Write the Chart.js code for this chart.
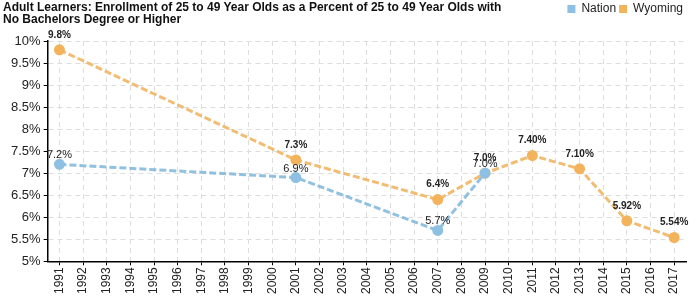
<!DOCTYPE html>
<html>
<head>
<meta charset="utf-8">
<script src="https://cdn.jsdelivr.net/npm/chart.js@4"></script>
<style>
  body { margin: 0; background: #fff; }
  #wrap { position: relative; width: 700px; height: 300px; }
  #title { position: absolute; left: 3px; top: 1px; font: bold 12px "Liberation Sans", Arial, sans-serif; line-height: 12px; color: #111; }
</style>
</head>
<body>
<div id="wrap">
  <div id="title">Adult Learners: Enrollment of 25 to 49 Year Olds as a Percent of 25 to 49 Year Olds with<br>No Bachelors Degree or Higher</div>
  <canvas id="chart" width="700" height="300"></canvas>
</div>
<script>
var years = ['1991','1992','1993','1994','1995','1996','1997','1998','1999','2000','2001','2002','2003','2004',
  '2005','2006','2007','2008','2009','2010','2011','2012','2013','2014','2015','2016','2017'];

// only some years have values, the line spans the gaps
var nation = [7.2,null,null,null,null,null,null,null,null,null,6.9,null,null,null,
  null,null,5.7,null,7.0,null,null,null,null,null,null,null,null];
var wyoming = [9.8,null,null,null,null,null,null,null,null,null,7.3,null,null,null,
  null,null,6.4,null,7.0,null,7.4,null,7.1,null,5.92,null,5.54];

var nationLabels = ['7.2%',null,null,null,null,null,null,null,null,null,'6.9%',null,null,null,
  null,null,'5.7%',null,'7.0%',null,null,null,null,null,null,null,null];
var wyomingLabels = ['9.8%',null,null,null,null,null,null,null,null,null,'7.3%',null,null,null,
  null,null,'6.4%',null,'7.0%',null,'7.40%',null,'7.10%',null,'5.92%',null,'5.54%'];

var font = '"Liberation Sans", Arial, sans-serif';

var pointLabels = {
  id: 'pointLabels',
  afterDatasetsDraw: function(chart) {
    var ctx = chart.ctx;
    chart.data.datasets.forEach(function(ds, i) {
      var meta = chart.getDatasetMeta(i);
      ctx.save();
      ctx.font = ds.labelFont;
      ctx.fillStyle = '#222';
      ctx.textAlign = 'center';
      ctx.textBaseline = 'middle';
      meta.data.forEach(function(pt, j) {
        if (ds.labels[j] == null) return;
        ctx.fillText(ds.labels[j], pt.x, pt.y - ds.labelOffset);
      });
      ctx.restore();
    });
  }
};

// extra room under the legend
var legendGap = {
  id: 'legendGap',
  beforeInit: function(chart) {
    var fit = chart.legend.fit;
    chart.legend.fit = function() {
      fit.bind(chart.legend)();
      this.height += 16;
    };
  }
};

chart = new Chart(document.getElementById('chart'), {
  type: 'line',
  data: {
    labels: years,
    datasets: [{
      label: 'Nation',
      data: nation,
      labels: nationLabels,
      labelFont: '11px ' + font,
      labelOffset: 9,
      spanGaps: true,
      borderColor: 'rgba(126,182,220,0.85)',
      backgroundColor: '#8dc0e2',
      pointBackgroundColor: '#8dc0e2',
      pointBorderColor: '#8dc0e2',
      borderWidth: 3,
      borderDash: [7, 3],
      pointRadius: 4,
      tension: 0
    }, {
      label: 'Wyoming',
      data: wyoming,
      labels: wyomingLabels,
      labelFont: 'bold 10px ' + font,
      labelOffset: 15,
      spanGaps: true,
      borderColor: 'rgba(240,178,90,0.85)',
      backgroundColor: '#f2b35b',
      pointBackgroundColor: '#f2b35b',
      pointBorderColor: '#f2b35b',
      borderWidth: 3,
      borderDash: [7, 3],
      pointRadius: 4,
      tension: 0
    }]
  },
  options: {
    responsive: false,
    animation: false,
    layout: { padding: { top: 0, right: 14, bottom: 4, left: 8 } },
    plugins: {
      legend: {
        position: 'top',
        align: 'end',
        labels: {
          boxWidth: 8, boxHeight: 8, padding: 3, color: '#222', font: { family: font, size: 12 },
          generateLabels: function(c) {
            return Chart.defaults.plugins.legend.labels.generateLabels(c).map(function(l) {
              l.lineDash = [];
              l.lineWidth = 0;
              l.strokeStyle = l.fillStyle;
              return l;
            });
          }
        }
      },
      tooltip: { enabled: false }
    },
    scales: {
      x: {
        offset: true,
        grid: { offset: false, color: '#dddddd', tickColor: '#000', tickLength: 4 },
        border: { color: '#000', width: 1.5, dash: [5, 4] },
        ticks: { color: '#222', minRotation: 90, maxRotation: 90, padding: 2, autoSkip: false, font: { family: font, size: 12 } }
      },
      y: {
        min: 5,
        max: 10,
        grid: {
          color: function(c) { return (c.tick && Math.round(c.tick.value * 4) % 2 === 0) ? '#dddddd' : 'rgba(0,0,0,0)'; },
          tickColor: function(c) { return (c.tick && Math.round(c.tick.value * 4) % 2 === 0) ? '#000' : '#e00000'; },
          tickLength: 4
        },
        border: { color: '#000', width: 1.5, dash: [5, 4] },
        ticks: {
          stepSize: 0.25,
          color: '#222',
          padding: 3,
          font: { family: font, size: 13 },
          callback: function(v) { return Math.round(v * 4) % 2 === 0 ? v + '%' : ''; }
        }
      }
    }
  },
  plugins: [pointLabels, legendGap]
});
</script>
</body>
</html>
